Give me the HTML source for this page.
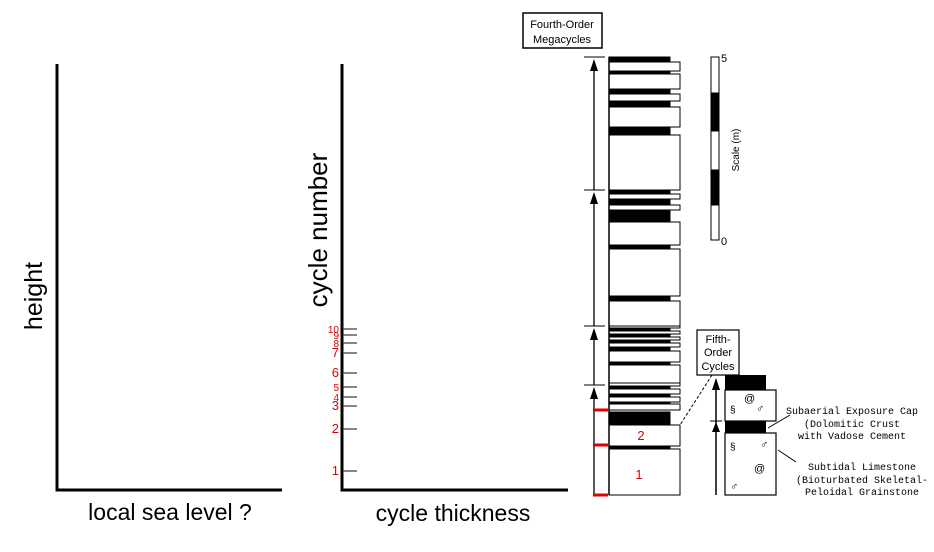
<!DOCTYPE html>
<html><head><meta charset="utf-8"><style>
html,body{margin:0;padding:0;background:#fff;}
svg{display:block;font-family:"Liberation Sans",sans-serif;}
</style></head><body>
<svg id="fig" width="934" height="552" viewBox="0 0 934 552" xmlns="http://www.w3.org/2000/svg">
  <g>
    <line x1="57" y1="64" x2="57" y2="491" stroke="#000" stroke-width="3"/>
    <line x1="55.5" y1="490" x2="282" y2="490" stroke="#000" stroke-width="3"/>
    <text x="0" y="0" transform="translate(42,296) rotate(-90)" text-anchor="middle" font-size="25">height</text>
    <text x="170" y="520" text-anchor="middle" font-size="23">local sea level ?</text>
  </g>
  <g>
    <line x1="342" y1="64" x2="342" y2="491" stroke="#000" stroke-width="3"/>
    <line x1="340.5" y1="490" x2="568" y2="490" stroke="#000" stroke-width="3"/>
    <text x="0" y="0" transform="translate(327,230) rotate(-90)" text-anchor="middle" font-size="26">cycle number</text>
    <text x="453" y="521" text-anchor="middle" font-size="23">cycle thickness</text>
    <g id="ticks"></g>
  </g>
  <g id="column"></g>
  <g>
    <rect x="523" y="13" width="79" height="35" fill="#fff" stroke="#000" stroke-width="1.5"/>
    <text x="562" y="28" text-anchor="middle" font-size="11">Fourth-Order</text>
    <text x="562" y="43" text-anchor="middle" font-size="11">Megacycles</text>
  </g>
  <g id="scalebar"></g>
  <g>
    <rect x="697" y="330" width="42" height="45" fill="#fff" stroke="#000" stroke-width="1.2"/>
    <text x="718" y="343" text-anchor="middle" font-size="11">Fifth-</text>
    <text x="718" y="356" text-anchor="middle" font-size="11">Order</text>
    <text x="718" y="370" text-anchor="middle" font-size="11">Cycles</text>
    <line x1="712" y1="375" x2="680" y2="425" stroke="#000" stroke-dasharray="3,2"/>
    <line x1="716" y1="495" x2="716" y2="380" stroke="#000" stroke-width="1.5"/>
    <polygon points="712,390 720,390 716,378" fill="#000"/>
    <line x1="710" y1="421" x2="722" y2="421" stroke="#000"/>
    <polygon points="712,432 720,432 716,422" fill="#000"/>
    <rect x="725" y="375" width="41" height="15" fill="#000"/>
    <rect x="725" y="390" width="51" height="31" fill="#fff" stroke="#000" stroke-width="1.2"/>
    <rect x="725" y="421" width="41" height="12" fill="#000"/>
    <rect x="725" y="433" width="51" height="62" fill="#fff" stroke="#000" stroke-width="1.2"/>
    <text x="730" y="413" font-size="10">§</text><text x="744" y="402" font-size="11">@</text><text x="756" y="412" font-size="11">♂</text>
    <text x="730" y="450" font-size="10">§</text><text x="760" y="448" font-size="11">♂</text><text x="754" y="472" font-size="11">@</text><text x="730" y="490" font-size="11">♂</text>
    <line x1="768" y1="428" x2="790" y2="415" stroke="#000"/>
    <line x1="778" y1="450" x2="796" y2="462" stroke="#000"/>
    <text x="852" y="414" text-anchor="middle" font-size="10" font-family="Liberation Mono, monospace">Subaerial Exposure Cap</text>
    <text x="852" y="427" text-anchor="middle" font-size="10" font-family="Liberation Mono, monospace">(Dolomitic Crust</text>
    <text x="852" y="439" text-anchor="middle" font-size="10" font-family="Liberation Mono, monospace">with Vadose Cement</text>
    <text x="862" y="470" text-anchor="middle" font-size="10" font-family="Liberation Mono, monospace">Subtidal Limestone</text>
    <text x="862" y="483" text-anchor="middle" font-size="10" font-family="Liberation Mono, monospace">(Bioturbated Skeletal-</text>
    <text x="862" y="495" text-anchor="middle" font-size="10" font-family="Liberation Mono, monospace">Peloidal Grainstone</text>
  </g>
</svg>
<script>
const NS="http://www.w3.org/2000/svg";
const cycleNumbers=[1,2,3,4,5,6,7,8,9,10];
const cycleTickY=[471,429,406,397,387,373,353,343,335,329];
const tickFont=[13,13,13,10,10,13,13,10,10,10];
// layer boundaries (top y, bottom y, 1=black mudstone cap, 0=white)
const layerTop=[57,62,71,74,89,94,101,107,127,135,190,194,199,205,210,222,245,249,296,301,326,328,331,334,337,340,343,347,351,362,365,383,386,389,394,397,402,404,412,425,446,449];
const layerBot=[62,71,74,89,94,101,107,127,135,190,194,199,205,210,222,245,249,296,301,326,328,331,334,337,340,343,347,351,362,365,383,386,389,394,397,402,404,410,425,446,449,495];
const layerType=[1,0,1,0,1,0,1,0,1,0,1,0,1,0,1,0,1,0,1,0,0,1,0,1,0,1,0,1,0,1,0,0,1,0,1,0,1,0,1,0,1,0];
const megaBounds=[57,190,326,385,495];
const redMarks=[410,445,495];
const scaleSegTop=[57,93,131,170,205];
const scaleSegBot=[93,131,170,205,240];
const scaleSegType=[0,1,0,1,0];
function mk(tag,attrs,parent){const e=document.createElementNS(NS,tag);for(const k in attrs)e.setAttribute(k,attrs[k]);parent.appendChild(e);return e;}
const ticks=document.getElementById('ticks');
cycleNumbers.forEach((n,i)=>{
  const y=cycleTickY[i];
  const l=mk('line',{x1:343,y1:y,x2:357,y2:y,stroke:'#444','stroke-width':1.3},ticks);
  
  
  const t=mk('text',{x:339,y:y+4,'text-anchor':'end','font-size':tickFont[i],fill:'#e00000'},ticks);
  t.textContent=n;
  
  
});
const col=document.getElementById('column');
layerTop.forEach((t,i)=>{
  const b=layerBot[i];
  const black=layerType[i]===1;
  const r=mk('rect',{x:609,y:t,width:black?61:71,height:b-t,fill:black?'#000':'#fff',stroke:'#000','stroke-width':1},col);
  
  
});
mk('line',{x1:609,y1:57,x2:609,y2:495,stroke:'#000','stroke-width':1.5},col);
for(let i=0;i<megaBounds.length-1;i++){
  const top=megaBounds[i],bot=megaBounds[i+1];
  const a=mk('line',{x1:594,y1:bot,x2:594,y2:top+4,stroke:'#000','stroke-width':1.3},col);
  
  
  mk('polygon',{points:`590,${top+14} 598,${top+14} 594,${top+2}`,fill:'#000'},col);
  mk('line',{x1:584,y1:top,x2:605,y2:top,stroke:'#000','stroke-width':1},col);
}
redMarks.forEach(y=>{
  const m=mk('line',{x1:593,y1:y,x2:608,y2:y,stroke:'#e00000','stroke-width':3},col);
  
  
});
const l1=mk('text',{x:639,y:479,'text-anchor':'middle','font-size':13,fill:'#e00000'},col);l1.textContent='1';


const l2=mk('text',{x:641,y:440,'text-anchor':'middle','font-size':13,fill:'#e00000'},col);l2.textContent='2';


const sb=document.getElementById('scalebar');
scaleSegTop.forEach((t,i)=>{
  mk('rect',{x:711,y:t,width:8,height:scaleSegBot[i]-t,fill:scaleSegType[i]?'#000':'#fff',stroke:'#000','stroke-width':1},sb);
});
const s5=mk('text',{x:721,y:62,'font-size':11},sb);s5.textContent='5';
const s0=mk('text',{x:721,y:245,'font-size':11},sb);s0.textContent='0';
const sl=mk('text',{x:0,y:0,transform:'translate(739,150) rotate(-90)','text-anchor':'middle','font-size':10},sb);sl.textContent='Scale (m)';
</script>
</body></html>
